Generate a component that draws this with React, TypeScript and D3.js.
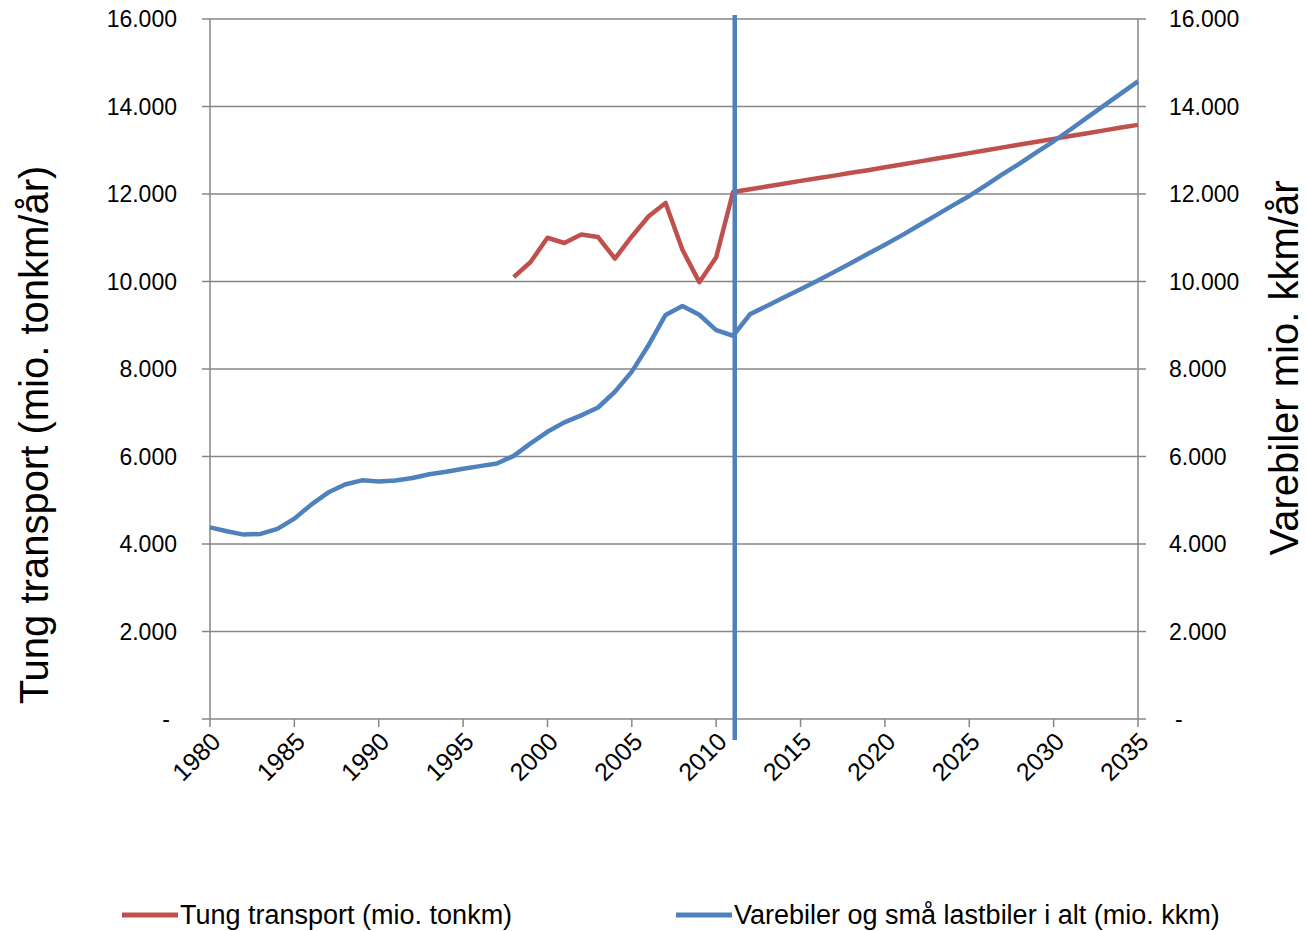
import React, { useEffect, useRef } from 'react';
import * as d3 from 'd3';

// Varebiler og små lastbiler i alt (mio. kkm), 1980-2035
const varebilerStart = 1980;
const varebiler = [
  4380, 4290, 4215, 4230, 4345, 4580, 4900, 5175, 5360, 5455,
  5430, 5450, 5510, 5595, 5650, 5720, 5780, 5840, 6015, 6300,
  6565, 6780, 6940, 7120, 7480, 7940, 8550, 9235, 9440, 9240,
  8890, 8760, 9250, 9440, 9635, 9825, 10015, 10220, 10425, 10635,
  10840, 11055, 11280, 11505, 11735, 11955, 12205, 12460, 12700, 12955,
  13205, 13475, 13750, 14025, 14300, 14575,
];

// Tung transport (mio. tonkm), 1998-2035
const tungStart = 1998;
const tung = [
  10100, 10445, 11000, 10880, 11075, 11015, 10525, 11030, 11490, 11795,
  10725, 9985, 10555, 12045, 12110, 12170, 12235, 12300, 12360, 12420,
  12485, 12545, 12610, 12675, 12740, 12805, 12870, 12935, 13000, 13065,
  13130, 13195, 13260, 13325, 13390, 13455, 13520, 13580,
];

const xTicks = [1980, 1985, 1990, 1995, 2000, 2005, 2010, 2015, 2020, 2025, 2030, 2035];
const yTicks = [0, 2000, 4000, 6000, 8000, 10000, 12000, 14000, 16000];
const splitYear = 2011.1;
const splitRange = [-480, 16090];

const legendItems = [
  { label: 'Tung transport (mio. tonkm)', color: '#C0504D' },
  { label: 'Varebiler og små lastbiler i alt (mio. kkm)', color: '#4F81BD' },
];

const fmt = (v: number) => (v === 0 ? '-' : d3.format(',')(v).replace(/,/g, '.'));

const App = () => {
  const svgRef = useRef<SVGSVGElement>(null);

  useEffect(() => {
    const svg = d3.select(svgRef.current);
    svg.selectAll('*').remove();

    const width = 1306;
    const height = 931;
    const margin = { top: 19, right: 168, bottom: 212, left: 210 };
    const font = '"Liberation Sans", Arial, sans-serif';
    const grid = '#868686';

    const x = d3.scaleLinear()
      .domain([1980, 2035])
      .range([margin.left, width - margin.right]);

    const y = d3.scaleLinear()
      .domain([0, 16000])
      .range([height - margin.bottom, margin.top]);

    // horizontal gridlines incl. outward tick marks on both axes
    svg.append('g')
      .selectAll('line')
      .data(yTicks)
      .join('line')
      .attr('x1', margin.left - 8)
      .attr('x2', width - margin.right + 8)
      .attr('y1', d => y(d))
      .attr('y2', d => y(d))
      .attr('stroke', grid)
      .attr('stroke-width', 1.5);

    // left + right axis lines
    svg.append('g')
      .selectAll('line')
      .data([1980, 2035])
      .join('line')
      .attr('x1', d => x(d))
      .attr('x2', d => x(d))
      .attr('y1', y(16000))
      .attr('y2', y(0))
      .attr('stroke', grid)
      .attr('stroke-width', 1.5);

    // x tick marks
    svg.append('g')
      .selectAll('line')
      .data(xTicks)
      .join('line')
      .attr('x1', d => x(d))
      .attr('x2', d => x(d))
      .attr('y1', y(0))
      .attr('y2', y(0) + 8)
      .attr('stroke', grid)
      .attr('stroke-width', 1.5);

    // y tick labels left
    svg.append('g')
      .selectAll('text')
      .data(yTicks)
      .join('text')
      .attr('x', d => (d === 0 ? 170 : 177))
      .attr('y', d => y(d))
      .attr('dy', '0.35em')
      .attr('text-anchor', 'end')
      .style('font-family', font)
      .style('font-size', '23px')
      .text(fmt);

    // y tick labels right
    svg.append('g')
      .selectAll('text')
      .data(yTicks)
      .join('text')
      .attr('x', d => (d === 0 ? 1175 : 1169))
      .attr('y', d => y(d))
      .attr('dy', '0.35em')
      .attr('text-anchor', 'start')
      .style('font-family', font)
      .style('font-size', '23px')
      .text(fmt);

    // x tick labels, rotated
    svg.append('g')
      .selectAll('text')
      .data(xTicks)
      .join('text')
      .attr('transform', d => `translate(${x(d) + 6},${y(0) + 18}) rotate(-45)`)
      .attr('dy', '0.35em')
      .attr('text-anchor', 'end')
      .style('font-family', font)
      .style('font-size', '25px')
      .text(d => d);

    // axis titles
    svg.append('text')
      .attr('transform', 'translate(34,435) rotate(-90)')
      .attr('dy', '0.35em')
      .attr('text-anchor', 'middle')
      .style('font-family', font)
      .style('font-size', '40px')
      .text('Tung transport (mio. tonkm/år)');

    svg.append('text')
      .attr('transform', 'translate(1284,368) rotate(-90)')
      .attr('dy', '0.35em')
      .attr('text-anchor', 'middle')
      .style('font-family', font)
      .style('font-size', '40px')
      .text('Varebiler mio. kkm/år');

    // series
    const line = d3.line<[number, number]>()
      .x(d => x(d[0]))
      .y(d => y(d[1]));

    const tungPts: [number, number][] = tung.map((v, i) => [tungStart + i, v]);
    const varePts: [number, number][] = varebiler.map((v, i) => [varebilerStart + i, v]);

    svg.append('path')
      .datum(tungPts)
      .attr('d', line)
      .attr('fill', 'none')
      .attr('stroke', legendItems[0].color)
      .attr('stroke-width', 4.5)
      .attr('stroke-linejoin', 'round');

    svg.append('path')
      .datum(varePts)
      .attr('d', line)
      .attr('fill', 'none')
      .attr('stroke', legendItems[1].color)
      .attr('stroke-width', 4.5)
      .attr('stroke-linejoin', 'round');

    // forecast split line
    svg.append('line')
      .attr('x1', x(splitYear))
      .attr('x2', x(splitYear))
      .attr('y1', y(splitRange[1]))
      .attr('y2', y(splitRange[0]))
      .attr('stroke', legendItems[1].color)
      .attr('stroke-width', 4.5);

    // legend
    const legendX = [122, 676];
    const lg = svg.append('g')
      .selectAll('g')
      .data(legendItems)
      .join('g')
      .attr('transform', (d, i) => `translate(${legendX[i]},915)`);

    lg.append('line')
      .attr('x1', 0)
      .attr('x2', 56)
      .attr('stroke', d => d.color)
      .attr('stroke-width', 5);

    lg.append('text')
      .attr('x', 58)
      .attr('dy', '0.35em')
      .style('font-family', font)
      .style('font-size', '27px')
      .text(d => d.label);
  }, []);

  return (
    <svg
      ref={svgRef}
      width="1306"
      height="931"
      style={{ position: 'absolute', left: 0, top: 0, background: '#fff' }}
    ></svg>
  );
};

export default App;
